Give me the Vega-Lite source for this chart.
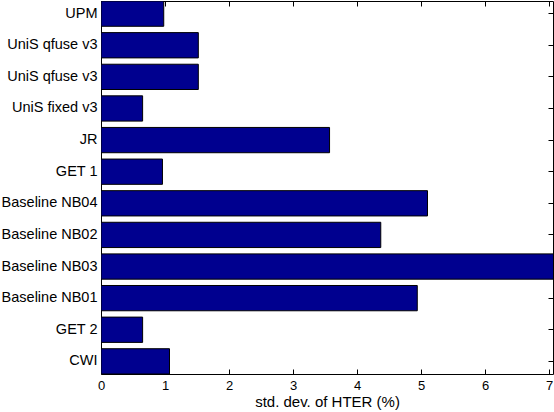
{
  "$schema": "https://vega.github.io/schema/vega-lite/v6.json",
  "autosize": "none",
  "width": 452,
  "height": 373,
  "padding": {"left": 101, "top": 1, "right": 1, "bottom": 38},
  "background": "white",
  "data": {
    "values": [
      {"name": "UPM", "value": 0.98},
      {"name": "UniS qfuse v3", "value": 1.52},
      {"name": "UniS qfuse v3 #2", "value": 1.52},
      {"name": "UniS fixed v3", "value": 0.65},
      {"name": "JR", "value": 3.57},
      {"name": "GET 1", "value": 0.96},
      {"name": "Baseline NB04", "value": 5.1},
      {"name": "Baseline NB02", "value": 4.37},
      {"name": "Baseline NB03", "value": 7.3},
      {"name": "Baseline NB01", "value": 4.94},
      {"name": "GET 2", "value": 0.65},
      {"name": "CWI", "value": 1.07}
    ]
  },
  "encoding": {
    "y": {
      "field": "name",
      "type": "nominal",
      "sort": null,
      "scale": {"paddingInner": 0.2, "paddingOuter": 0}
    },
    "x": {
      "field": "value",
      "type": "quantitative",
      "scale": {"domain": [0, 7.06], "nice": false, "zero": true}
    }
  },
  "layer": [
    {
      "mark": {"type": "bar", "clip": true, "fill": "#00008F", "stroke": "black", "strokeWidth": 1},
      "encoding": {
        "y": {
          "field": "name",
          "type": "nominal",
          "sort": null,
          "axis": {
            "orient": "left",
            "title": null,
            "domain": false,
            "tickSize": -5,
            "tickColor": "black",
            "labelFontSize": 14.5,
            "labelPadding": 9,
            "labelExpr": "replace(datum.label, ' #2', '')"
          }
        },
        "x": {
          "field": "value",
          "type": "quantitative",
          "axis": {
            "orient": "bottom",
            "title": "std. dev. of HTER (%)",
            "values": [0, 1, 2, 3, 4, 5, 6, 7],
            "grid": false,
            "domain": false,
            "tickSize": -5,
            "tickColor": "black",
            "labelFontSize": 13,
            "labelPadding": 10,
            "labelFlush": false,
            "titleFontSize": 15,
            "titlePadding": 2
          }
        }
      }
    },
    {
      "mark": {"type": "bar", "opacity": 0},
      "encoding": {
        "y": {
          "field": "name",
          "type": "nominal",
          "sort": null,
          "axis": {
            "orient": "right",
            "title": null,
            "domain": false,
            "labels": false,
            "tickSize": -5,
            "tickColor": "black"
          }
        },
        "x": {
          "field": "value",
          "type": "quantitative",
          "axis": {
            "orient": "top",
            "title": null,
            "values": [0, 1, 2, 3, 4, 5, 6, 7],
            "grid": false,
            "domain": false,
            "labels": false,
            "tickSize": -5,
            "tickColor": "black"
          }
        }
      }
    }
  ],
  "resolve": {"axis": {"x": "independent", "y": "independent"}},
  "config": {
    "view": {"stroke": "black", "strokeWidth": 1},
    "axis": {
      "labelFont": "Liberation Sans",
      "labelColor": "black",
      "titleFont": "Liberation Sans",
      "titleFontWeight": "normal",
      "titleColor": "black",
      "tickWidth": 1
    }
  }
}
